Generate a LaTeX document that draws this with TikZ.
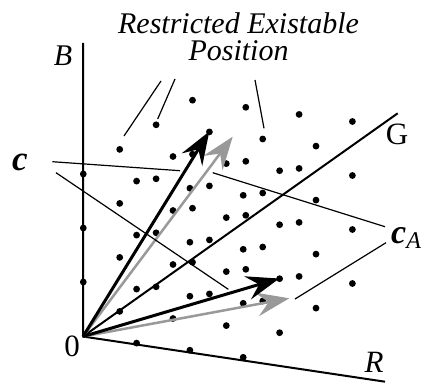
\documentclass[tikz,border=0pt]{standalone}
\usepackage{fontspec}
\setmainfont{Liberation Serif}
\usetikzlibrary{arrows.meta}
\newcommand{\LatDot}[3]{%
  \fill (83.3+53.3*#1+36.4*#2, 336+7.1*#1-24.6*#2-54*#3) circle (3.4pt);
}

\begin{document}
\begin{tikzpicture}[x=1pt,y=-1pt,
    lbl/.style={inner sep=0pt, anchor=base, font=\fontsize{31}{31}\selectfont},
    axis/.style={line width=2pt},
    vec/.style={line width=3pt, -{Stealth[length=33pt,width=24pt,inset=12pt]}},
    lead/.style={line width=1.2pt}]
    \useasboundingbox (0,0) rectangle (427,385);
    % lattice points
    \foreach \rv in {0,...,3} {
      \foreach \gv in {0,...,3} {
        \foreach \bv in {0,...,3} {
          \ifnum\numexpr\rv+\gv+\bv\relax>0 \LatDot{\rv}{\gv}{\bv}\fi
        }
      }
    }
    \coordinate (O) at (83,336.5);
    \coordinate (Btop) at (83,43);
    \coordinate (Gend) at (397.7,113.3);
    \coordinate (Rend) at (385,381.7);
    \draw[axis] (Btop) -- (O) -- (Rend);
    \draw[axis] (O) -- (Gend);
    \node[lbl, font=\fontsize{30}{30}\selectfont\itshape] (B) at (63,66) {B};
    \node[lbl] (G) at (397,144) {G};
    \node[lbl, font=\fontsize{31}{31}\selectfont\itshape] (R) at (374,372) {R};
    \node[lbl] (zero) at (72,356) {0};
    % vectors
    \coordinate (cTop) at (209.3,131.5);
    \coordinate (cLow) at (279.3,278.5);
    \coordinate (aTop) at (232.7,136.7);
    \coordinate (aLow) at (289.3,298.3);
    \draw[vec, black!40, line width=2.5pt] (O) -- (aTop);
    \draw[vec, black!40, line width=2.5pt] (O) -- (aLow);
    \draw[vec] (O) -- (cTop);
    \draw[vec] (O) -- (cLow);
    % labels and leaders
    \node[lbl, anchor=north, align=center, font=\fontsize{30}{27}\selectfont\itshape] (title) at (238.5,12)
      {Restricted Existable\\Position};
    \node[lbl, font=\fontsize{35}{35}\selectfont\bfseries\itshape] (c) at (20,170) {c};
    \node[lbl, anchor=base west, font=\fontsize{34}{34}\selectfont\bfseries\itshape] (cA) at (391,243)
      {c\raisebox{-5pt}{\fontsize{24}{24}\selectfont\mdseries\itshape A}};
    \coordinate (t1) at (161,81);   \coordinate (p1) at (124,136);
    \coordinate (t2) at (175,79);   \coordinate (p2) at (157.7,119);
    \coordinate (t3) at (255,80);   \coordinate (p3) at (264,128.3);
    \draw[lead] (t1) -- (p1);
    \draw[lead] (t2) -- (p2);
    \draw[lead] (t3) -- (p3);
    \coordinate (c1) at (52.3,161.7);  \coordinate (q1) at (180,170.7);
    \coordinate (c2) at (56,172.7);    \coordinate (q2) at (228.3,289.3);
    \coordinate (a1) at (385,226.7);   \coordinate (s1) at (212.7,172.7);
    \coordinate (a2) at (386,242.7);   \coordinate (s2) at (295,299);
    \draw[lead] (c1) -- (q1);
    \draw[lead] (c2) -- (q2);
    \draw[lead] (a1) -- (s1);
    \draw[lead] (a2) -- (s2);
\end{tikzpicture}
\end{document}
